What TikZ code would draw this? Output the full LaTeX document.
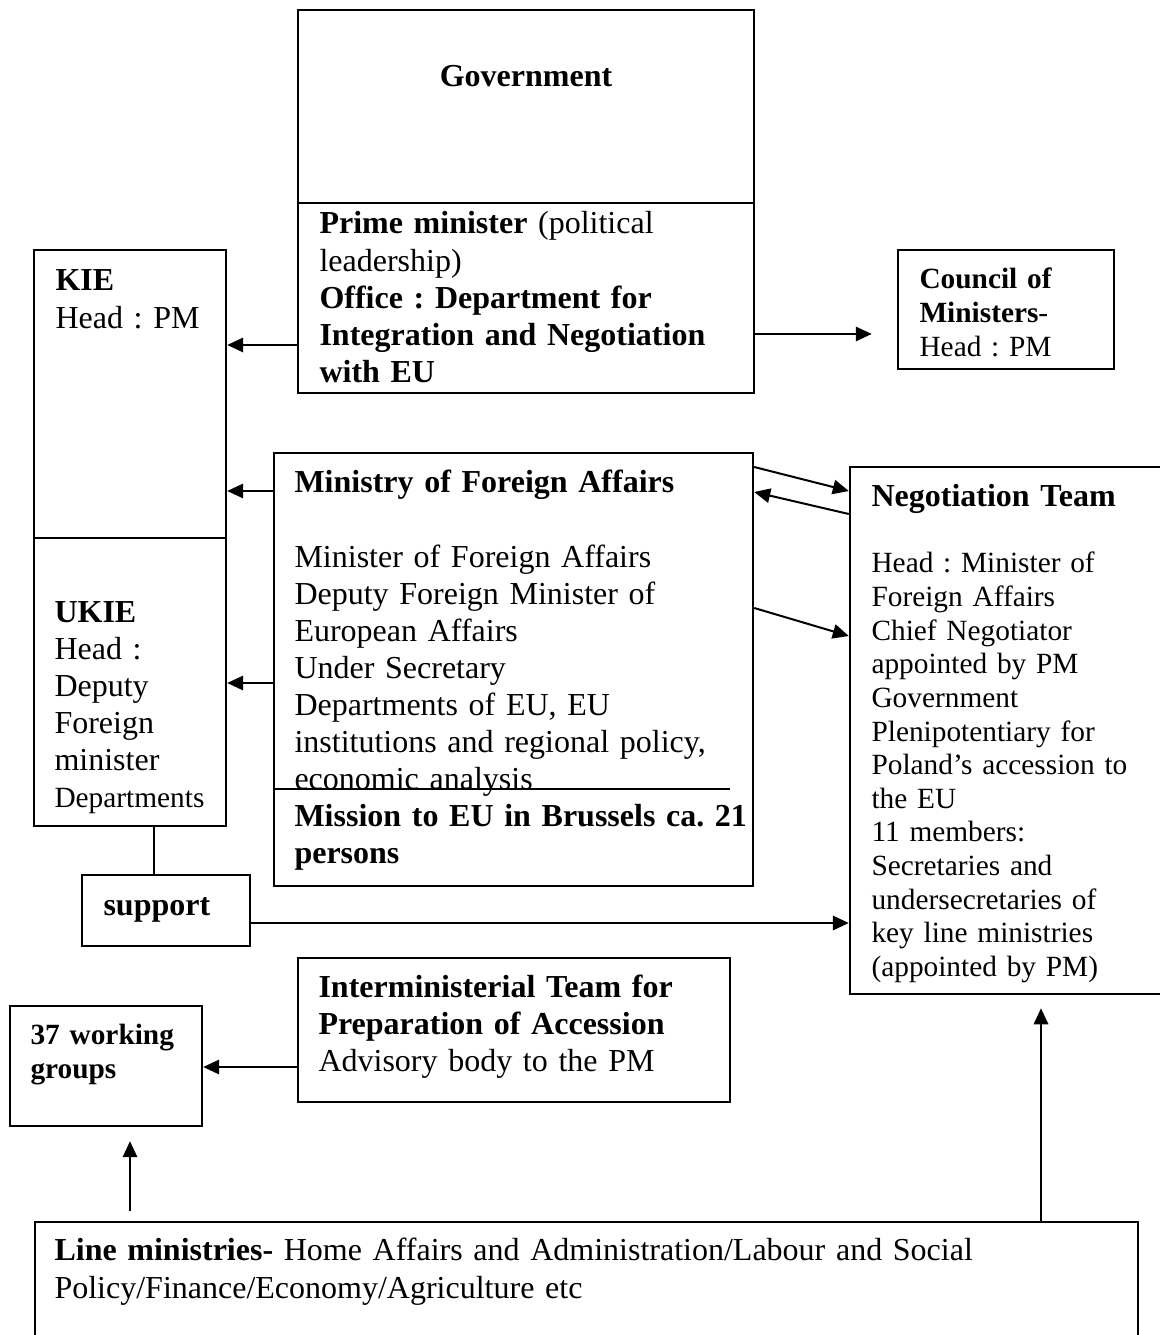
\documentclass[tikz,border=0pt]{standalone}
\usepackage{fontspec}
\setmainfont{Liberation Serif}
\frenchspacing
\usetikzlibrary{arrows.meta, positioning, calc, fit}

\begin{document}
\begin{tikzpicture}[
        x=0.375pt, y=-0.375pt,
        unit/.style={draw, line width=0.9pt, inner sep=0pt},
        txt/.style={anchor=base west, inner sep=0pt, align=left, font=\fontsize{12}{13.9}\selectfont},
        smalltxt/.style={txt, font=\fontsize{11}{12.6}\selectfont},
        arrow/.style={-{Triangle[length=6pt, width=5.4pt]}, line width=0.75pt}
    ]
        \useasboundingbox (0,0) rectangle (1160,1335);

        % boxes
        \node[unit, fit={(298,10) (754,203)}] (gov) {};
        \node[unit, fit={(298,203) (754,393)}] (pm) {};
        \node[unit, fit={(34,250) (226,538)}] (kie) {};
        \node[unit, fit={(34,538) (226,826)}] (ukie) {};
        \node[unit, fit={(898,250) (1114,369)}] (council) {};
        \node[unit, fit={(274,453) (753,886)}] (mfa) {};
        \node[unit, fit={(850,467) (1166,994)}] (nt) {};
        \node[unit, fit={(82,875) (250,946)}] (support) {};
        \node[unit, fit={(298,958) (730,1102)}] (imt) {};
        \node[unit, fit={(10,1006) (202,1126)}] (wg) {};
        \node[unit, fit={(35,1222) (1138,1350)}] (line) {};
        \draw[line width=0.9pt] (mfa.west |- 0,789) -- (730,789);

        % texts
        \node[txt, anchor=base, font=\fontsize{12}{13.9}\selectfont\bfseries] (govtxt) at (526,87) {Government};
        \node[txt, text width=162pt] (pmtxt) at (319,234)
            {\textbf{Prime minister} (political\\leadership)\\\textbf{Office : Department for}\\\textbf{Integration and Negotiation}\\\textbf{with EU}};
        \node[txt, text width=66pt] (kietxt) at (55,291) {\textbf{KIE}\\Head : PM};
        \node[txt, text width=66pt] (ukietxt) at (54,622)
            {\textbf{UKIE}\\Head :\\Deputy\\Foreign\\minister\\{\fontsize{11}{12.6}\selectfont Departments}};
        \node[smalltxt, text width=72pt] (counciltxt) at (919,289) {\textbf{Council of}\\\textbf{Ministers}-\\Head : PM};
        \node[txt, text width=172pt] (mfatxt) at (294,493)
            {\textbf{Ministry of Foreign Affairs}\\[13.9pt]Minister of Foreign Affairs\\Deputy Foreign Minister of\\European Affairs\\Under Secretary\\Departments of EU, EU\\institutions and regional policy,\\economic analysis\\\textbf{Mission to EU in Brussels ca. 21}\\\textbf{persons}};
        \node[txt, text width=108pt] (nttitle) at (871,507) {\textbf{Negotiation Team}};
        \node[smalltxt, text width=108pt] (nttxt) at (871,573)
            {Head : Minister of\\Foreign Affairs\\Chief Negotiator\\appointed by PM\\Government\\Plenipotentiary for\\Poland’s accession to\\the EU\\11 members:\\Secretaries and\\undersecretaries of\\key line ministries\\(appointed by PM)};
        \node[txt] (supporttxt) at (103,915) {\textbf{support}};
        \node[txt, text width=154pt] (imttxt) at (318,997)
            {\textbf{Interministerial Team for}\\\textbf{Preparation of Accession}\\Advisory body to the PM};
        \node[txt, text width=64pt, font=\fontsize{11}{13.1}\selectfont] (wgtxt) at (30,1044) {\textbf{37 working}\\\textbf{groups}};
        \node[txt, text width=406pt, font=\fontsize{12}{14.25}\selectfont] (linetxt) at (54,1260)
            {\textbf{Line ministries-} Home Affairs and Administration/Labour and Social\\Policy/Finance/Economy/Agriculture etc};

        % connectors
        \draw[arrow] (pm.west |- 0,345) -- (kie.east |- 0,345);
        \draw[arrow, shorten >=9.4pt] (pm.east |- 0,334) -- (council.west |- 0,334);
        \draw[arrow] (mfa.west |- 0,491) -- (kie.east |- 0,491);
        \draw[arrow] (mfa.west |- 0,683) -- (ukie.east |- 0,683);
        \draw[arrow] (mfa.east |- 0,467) -- (nt.west |- 0,491);
        \draw[arrow] (nt.west |- 0,514) -- (mfa.east |- 0,492);
        \draw[arrow] (mfa.east |- 0,608) -- (nt.west |- 0,636);
        \draw[line width=0.75pt] (ukie.south -| 154,0) -- (support.north -| 154,0);
        \draw[arrow] (support.east |- 0,923) -- (nt.west |- 0,923);
        \draw[arrow] (imt.west |- 0,1067) -- (wg.east |- 0,1067);
        \draw[arrow, shorten <=3.75pt, shorten >=5.25pt] (line.north -| 130,0) -- (wg.south -| 130,0);
        \draw[arrow, shorten >=4.9pt] (line.north -| 1041,0) -- (nt.south -| 1041,0);
    \end{tikzpicture}
\end{document}
